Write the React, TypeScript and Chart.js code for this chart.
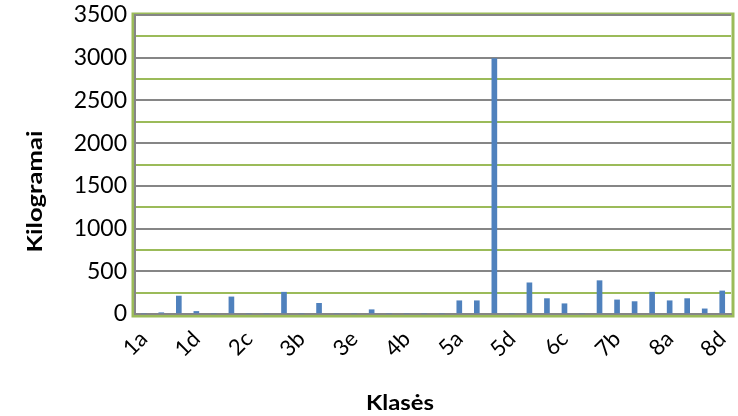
import React, { useEffect, useRef } from "react";
import { Chart, registerables } from "chart.js";

Chart.register(...registerables);

const categories = ["1a","1b","1c","1d","2a","2b","2c","2d","3a","3b","3c","3d","3e","3f","4a","4b","4c","4d","5a","5b","5c","5d","6a","6b","6c","6d","7a","7b","7c","7d","8a","8b","8c","8d"];
const kilograms = [0,15,210,30,0,200,0,0,255,0,125,0,0,50,0,0,0,0,155,155,2990,0,365,180,120,0,390,165,145,255,155,180,60,270];
const yTitle = "Kilogramai";
const xTitle = "Klasės";

const FONT = "Lato, 'Open Sans', sans-serif";
const GRAY = "#868686";
const GREEN = "#9BBB59";
const BLUE = "#4F81BD";

function drawStretched(ctx: CanvasRenderingContext2D, text: string, x: number, y: number, rot: number, length: number) {
  ctx.save();
  ctx.translate(x, y);
  ctx.rotate(rot);
  const w = ctx.measureText(text).width;
  ctx.scale(length / w, 1);
  ctx.fillText(text, 0, 0);
  ctx.restore();
}

export default function App() {
  const ref = useRef<HTMLCanvasElement | null>(null);
  useEffect(() => {
    if (!ref.current) return;
    const frame = {
      id: "frame",
      beforeDraw(chart: any) {
        const { ctx, chartArea: a } = chart;
        ctx.save();
        ctx.strokeStyle = GREEN;
        ctx.lineWidth = 3;
        ctx.strokeRect(a.left - 2, a.top - 1, a.right - a.left + 4, a.bottom - a.top + 3);
        ctx.restore();
      },
      afterDraw(chart: any) {
        const { ctx, chartArea: a } = chart;
        ctx.save();
        ctx.fillStyle = "#000";
        ctx.font = `bold 20px ${FONT}`;
        ctx.textAlign = "center";
        ctx.textBaseline = "middle";
        drawStretched(ctx, yTitle, 36, (a.top + a.bottom) / 2 + 27, -Math.PI / 2, 122);
        drawStretched(ctx, xTitle, (a.left + a.right) / 2 - 33, 404, 0, 68);
        ctx.restore();
      },
    };
    const chart = new Chart(ref.current, {
      type: "bar",
      data: {
        labels: categories,
        datasets: [
          {
            data: kilograms,
            backgroundColor: BLUE,
            borderWidth: 0,
            barThickness: 5,
          },
        ],
      },
      options: {
        animation: false,
        responsive: true,
        maintainAspectRatio: false,
        layout: { padding: { top: 15, right: 7, left: 0, bottom: 0 } },
        plugins: { legend: { display: false }, tooltip: { enabled: false } },
        scales: {
          x: {
            grid: { display: false },
            border: { color: GRAY, width: 2 },
            ticks: {
              autoSkip: false,
              maxRotation: 45,
              minRotation: 45,
              color: "#000",
              font: { family: FONT, size: 22 },
              padding: 4,
              callback: (_v: any, i: number) => (i % 3 === 0 ? categories[i] : ""),
            },
            afterFit: (s: any) => {
              s.height = 102;
              s.paddingRight = 0;
              s.paddingLeft = 0;
            },
          },
          y: {
            min: 0,
            max: 3500,
            grid: {
              drawTicks: false,
              lineWidth: 2,
              color: (c: any) => (c.tick && c.tick.value % 500 === 0 ? GRAY : GREEN),
            },
            border: { color: GRAY, width: 2 },
            ticks: {
              stepSize: 250,
              autoSkip: false,
              color: "#000",
              padding: 8,
              font: { family: FONT, size: 23 },
              callback: (v: any) => (Number(v) % 500 === 0 ? String(v) : ""),
            },
            afterFit: (s: any) => {
              s.width = 135;
              s.paddingTop = 0;
            },
          },
        },
      },
      plugins: [frame],
    });
    return () => chart.destroy();
  }, []);
  return (
    <div style={{ position: "absolute", left: 0, top: 0, width: 738, height: 416, background: "#fff" }}>
      <canvas ref={ref} />
    </div>
  );
}
